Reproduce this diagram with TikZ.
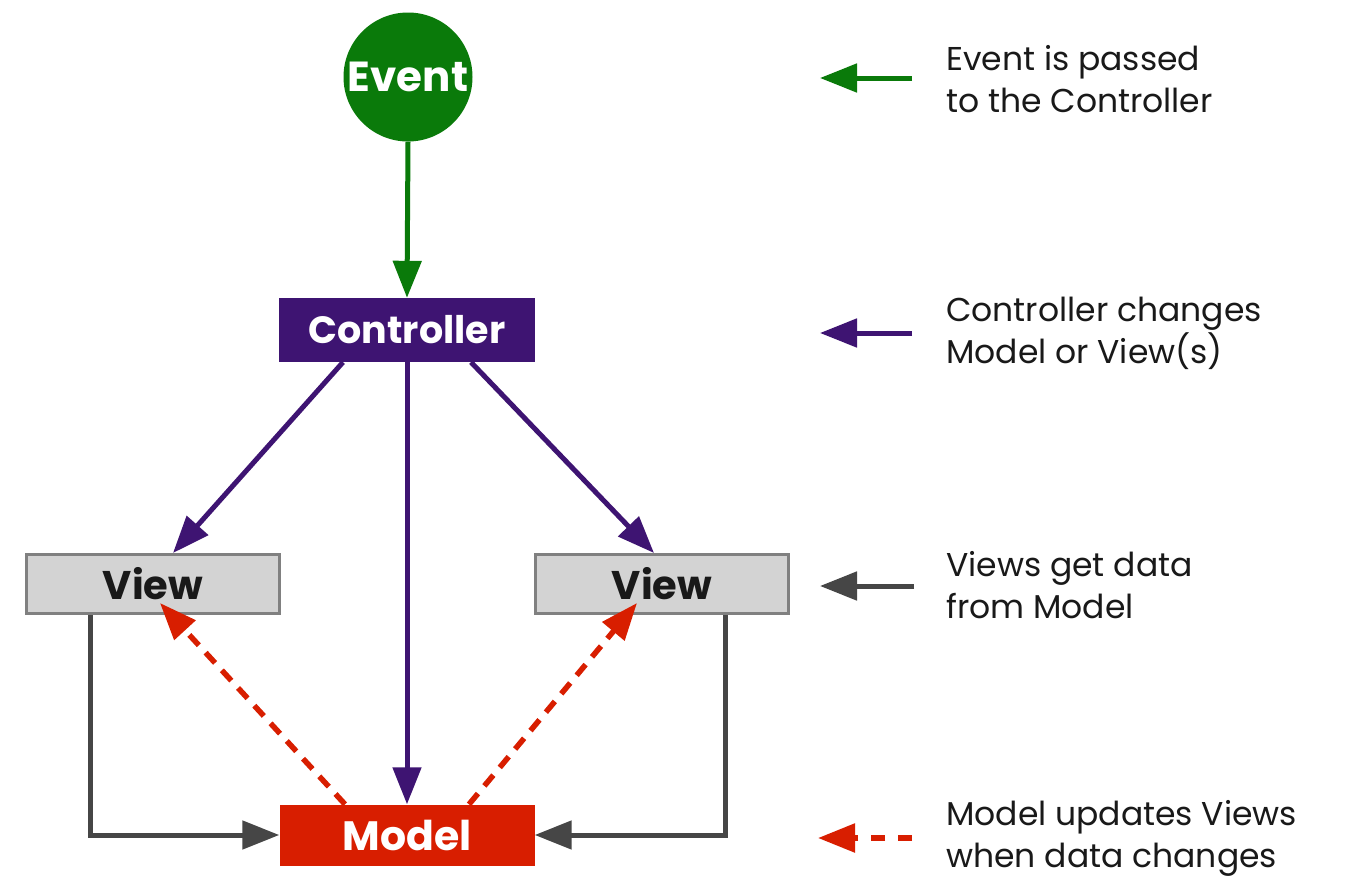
\documentclass[tikz,border=0pt]{standalone}
\usepackage{fontspec}
\setmainfont{Poppins}
\usetikzlibrary{arrows.meta}
\definecolor{evgreen}{RGB}{10,122,10}
\definecolor{ctpurple}{RGB}{62,20,114}
\definecolor{mdred}{RGB}{216,30,0}
\definecolor{vwgray}{RGB}{211,211,211}
\definecolor{vwborder}{RGB}{128,128,128}
\definecolor{lngray}{RGB}{70,70,70}
\tikzset{
  box/.style={rectangle, inner sep=0pt, font=\fontsize{40}{42}\selectfont\bfseries},
  ctbox/.style={box, fill=ctpurple, text=white, minimum width=256pt, minimum height=64pt, font=\fontsize{38}{40}\selectfont\bfseries},
  vwbox/.style={box, fill=vwgray, draw=vwborder, line width=3pt, text=black!90, minimum width=253pt, minimum height=59pt},
  mdbox/.style={box, fill=mdred, text=white, minimum width=255pt, minimum height=61pt, font=\fontsize{41}{43}\selectfont\bfseries},
  evcirc/.style={circle, fill=evgreen, text=white, minimum size=129pt, inner sep=0pt, font=\fontsize{42}{44}\selectfont\bfseries},
  tip/.style={-{Triangle[length=37pt,width=28pt]}},
  garr/.style={tip, draw=evgreen, line width=5pt},
  parr/.style={tip, draw=ctpurple, line width=5pt},
  karr/.style={tip, draw=lngray, line width=5pt},
  rarr/.style={tip, draw=mdred, line width=5.5pt, dash pattern=on 14pt off 10pt},
  legtxt/.style={anchor=west, align=left, inner sep=0pt, text=black!90, font=\fontsize{33}{42}\selectfont}
}
\begin{document}
\begin{tikzpicture}[x=1pt,y=-1pt]
\useasboundingbox[fill=white] (0,0) rectangle (1345,878);
\node[evcirc] (ev) at (408,77) {Event};
\node[ctbox] (ct) at (407,330) {Controller};
\node[vwbox] (vl) at (153,584) {View};
\node[vwbox] (vr) at (662,584) {View};
\node[mdbox] (md) at (407,835) {Model};
% connectors
\draw[garr] (ev.south) -- (ct.north);
\draw[parr] (ct.south) -- (md.north);
\draw[parr] ([xshift=-64pt]ct.south) -- ([xshift=20pt]vl.north);
\draw[parr] ([xshift=64pt]ct.south) -- ([xshift=-8pt]vr.north);
\draw[karr] ([xshift=-63pt]vl.south) |- (md.west);
\draw[karr] ([xshift=63pt]vr.south) |- (md.east);
\draw[rarr] ([xshift=-62pt]md.north) -- ([xshift=7pt,yshift=12pt]vl.south);
\draw[rarr] ([xshift=62pt]md.north) -- ([xshift=-25pt,yshift=12pt]vr.south);
% legend
\coordinate (l1a) at (912,78); \coordinate (l1b) at (820,78);
\coordinate (l2a) at (912,333); \coordinate (l2b) at (820,333);
\coordinate (l3a) at (914,586); \coordinate (l3b) at (820,586);
\coordinate (l4a) at (912,838); \coordinate (l4b) at (818,838);
\draw[garr] (l1a) -- (l1b);
\draw[parr] (l2a) -- (l2b);
\draw[karr] (l3a) -- (l3b);
\draw[rarr, dash pattern=on 14pt off 13pt] (l4a) -- (l4b);
\node[legtxt] (t1) at (946,79) {Event is passed\\to the Controller};
\node[legtxt] (t2) at (946,333) {Controller changes\\Model or View(s)};
\node[legtxt] (t3) at (946,585) {Views get data\\from Model};
\node[legtxt] (t4) at (946,838) {Model updates Views\\when data changes};
\end{tikzpicture}
\end{document}
